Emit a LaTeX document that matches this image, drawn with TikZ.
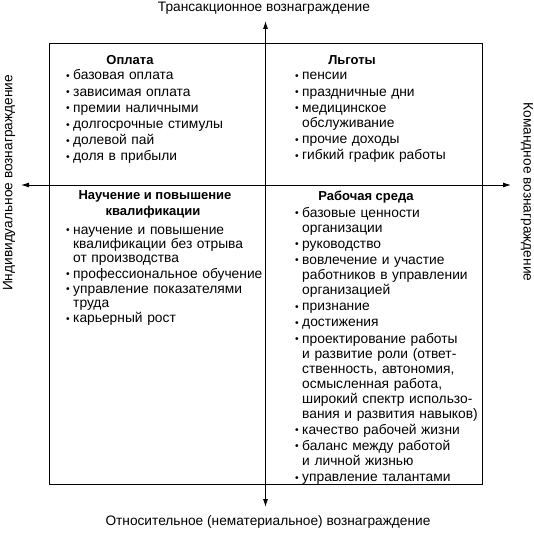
\documentclass[tikz,border=0pt]{standalone}
\usepackage{fontspec}
\setmainfont{Liberation Sans}
\usetikzlibrary{arrows.meta}
\newlength\bulw
\setlength\bulw{7pt}
\newcommand\bul{\makebox[\bulw][l]{\raisebox{0.6pt}{\scalebox{0.75}{\textbullet}}}}
\newcommand\itmA[1]{\noindent\hangindent=\bulw\hangafter=1\bul#1}
\newcommand\itm[1]{\par\vspace{1.2pt}\noindent\hangindent=\bulw\hangafter=1\bul#1}
\begin{document}
\begin{tikzpicture}[x=1pt,y=-1pt,
  lbl/.style={inner sep=0pt, font=\fontsize{13.7}{15}\selectfont},
  lst/.style={anchor=base west, inner sep=0pt, text width=200pt, align=left, font=\fontsize{13.8}{15}\selectfont},
  hd/.style={anchor=base, inner sep=0pt, font=\fontsize{13}{15}\selectfont\bfseries},
  arrs/.style={{Latex[length=8pt,width=5pt]}-{Latex[length=8pt,width=5pt]}, line width=0.9pt},
  frame/.style={draw, line width=0.9pt, minimum width=433pt, minimum height=441pt, inner sep=0pt}]
\useasboundingbox (0,0) rectangle (534,532);
\node[frame] (box) at (265.5,263.5) {};
\coordinate (up) at (265.5,21);
\coordinate (dn) at (265.5,507);
\coordinate (lt) at (21,185);
\coordinate (rt) at (511,185);
\draw[arrs] (up) -- (dn);
\draw[arrs] (lt) -- (rt);
\node[lbl] (tlab) at (264,8) {Трансакционное вознаграждение};
\node[lbl] (blab) at (268,522) {Относительное (нематериальное) вознаграждение};
\node[lbl, rotate=90] (llab) at (9,183) {Индивидуальное вознаграждение};
\node[lbl, rotate=-90] (rlab) at (527,192) {Командное вознаграждение};
% top left
\node[hd] (h1) at (130,65) {Оплата};
\node[lst] (l1) at (66,80) {\itmA{базовая оплата}\itm{зависимая оплата}\itm{премии наличными}\itm{долгосрочные стимулы}\itm{долевой пай}\itm{доля в прибыли}};
% top right
\node[hd] (h2) at (352,64.5) {Льготы};
\node[lst] (l2) at (295,80) {\itmA{пенсии}\itm{праздничные дни}\itm{медицинское\newline обслуживание}\itm{прочие доходы}\itm{гибкий график работы}};
% bottom left
\node[hd] (h3a) at (155,199) {Научение и повышение};
\node[hd] (h3b) at (153,215.5) {квалификации};
\node[lst, font=\fontsize{13.8}{14.1}\selectfont] (l3) at (66,234.5) {\itmA{научение и повышение\newline квалификации без отрыва\newline от производства}\itm{профессиональное обучение}\itm{управление показателями\newline труда}\itm{карьерный рост}};
% bottom right
\node[hd] (h4) at (366,200.5) {Рабочая среда};
\node[lst] (l4) at (295,217) {\itmA{базовые ценности\newline организации}\itm{руководство}\itm{вовлечение и участие\newline работников в управлении\newline организацией}\itm{признание}\itm{достижения}\itm{проектирование работы\newline и развитие роли (ответ-\newline ственность, автономия,\newline осмысленная работа,\newline широкий спектр использо-\newline вания и развития навыков)}\itm{качество рабочей жизни}\itm{баланс между работой\newline и личной жизнью}\itm{управление талантами}};
\end{tikzpicture}
\end{document}
